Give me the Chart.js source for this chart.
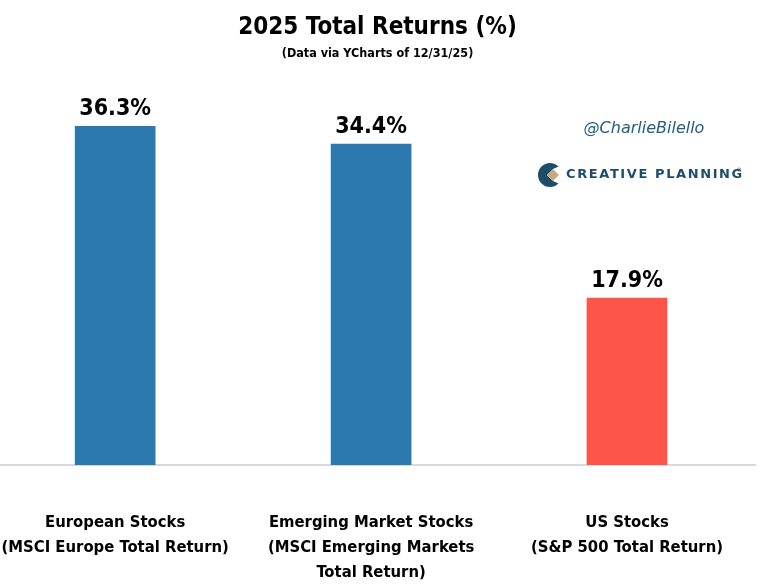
<!DOCTYPE html>
<html lang="en">
<head>
    <meta charset="UTF-8">
    <title>2025 Total Returns (%)</title>
    <script src="https://cdn.jsdelivr.net/npm/chart.js"></script>
    <style>
        html, body { margin: 0; padding: 0; background: #fff; }
        #box { width: 783px; height: 588px; }
    </style>
</head>
<body>
    <div id="box"><canvas id="grafico" width="783" height="588"></canvas></div>

    <script>
        // dados do gráfico
        const categorias = [
            ['European Stocks', '(MSCI Europe Total Return)'],
            ['Emerging Market Stocks', '(MSCI Emerging Markets', 'Total Return)'],
            ['US Stocks', '(S&P 500 Total Return)']
        ];
        const retornos = [36.3, 34.4, 17.9];
        const cores = ['#2b79ae', '#2b79ae', '#fd5649'];

        const fonte = "'Liberation Sans Narrow', 'DejaVu Sans Condensed', sans-serif";

        // rótulos de valor acima das barras
        const rotulos = {
            id: 'rotulos',
            afterDatasetsDraw(chart) {
                const ctx = chart.ctx;
                const meta = chart.getDatasetMeta(0);
                ctx.save();
                ctx.font = 'bold 23px ' + fonte;
                ctx.fillStyle = '#000';
                ctx.textAlign = 'center';
                ctx.textBaseline = 'alphabetic';
                meta.data.forEach((bar, i) => {
                    ctx.fillText(retornos[i].toFixed(1) + '%', bar.x, bar.y - 11);
                });
                ctx.restore();
            }
        };

        // marca d'água e logo
        const marca = {
            id: 'marca',
            afterDraw(chart) {
                const ctx = chart.ctx;
                ctx.save();
                ctx.fillStyle = '#215d7e';
                ctx.font = 'italic 16px DejaVu Sans, sans-serif';
                ctx.textAlign = 'center';
                ctx.textBaseline = 'middle';
                ctx.fillText('@CharlieBilello', 644, 129);

                // ícone
                const cx = 550, cy = 175;
                ctx.fillStyle = '#1d4d6a';
                ctx.beginPath();
                ctx.arc(cx, cy, 12, Math.PI * 0.25, Math.PI * 1.75);
                ctx.lineTo(cx + 3, cy - 6);
                ctx.lineTo(cx - 3, cy);
                ctx.lineTo(cx + 3, cy + 6);
                ctx.closePath();
                ctx.fill();
                ctx.fillStyle = '#c9aa7c';
                ctx.beginPath();
                ctx.moveTo(cx + 3, cy - 6);
                ctx.lineTo(cx + 9, cy);
                ctx.lineTo(cx + 3, cy + 6);
                ctx.lineTo(cx - 3, cy);
                ctx.closePath();
                ctx.fill();

                ctx.fillStyle = '#1d4d6a';
                ctx.font = 'bold 13px DejaVu Sans, sans-serif';
                ctx.textAlign = 'left';
                if ('letterSpacing' in ctx) ctx.letterSpacing = '1.6px';
                ctx.fillText('CREATIVE PLANNING', 566, 175);
                ctx.font = '6px DejaVu Sans, sans-serif';
                ctx.fillText('®', 736, 170);
                ctx.restore();
            }
        };

        new Chart(document.getElementById('grafico'), {
            type: 'bar',
            data: {
                datasets: [{
                    data: retornos.map((v, i) => ({ x: i, y: v })),
                    backgroundColor: cores,
                    barThickness: 80
                }]
            },
            options: {
                responsive: false,
                animation: false,
                layout: { padding: { left: 0, right: 28, top: 0, bottom: 0 } },
                plugins: {
                    legend: { display: false },
                    tooltip: { enabled: false },
                    title: {
                        display: true,
                        text: '2025 Total Returns (%)',
                        color: '#000',
                        font: { family: fonte, size: 24, weight: 'bold', lineHeight: 1.2 },
                        padding: { top: 13, bottom: 0 }
                    },
                    subtitle: {
                        display: true,
                        text: '(Data via YCharts of 12/31/25)',
                        color: '#000',
                        font: { family: fonte, size: 12.5, weight: 'bold', lineHeight: 1.2 },
                        padding: { top: 4, bottom: 31 }
                    }
                },
                scales: {
                    x: {
                        type: 'linear',
                        offset: false,
                        min: -0.45,
                        max: 2.5,
                        afterBuildTicks(axis) {
                            axis.ticks = categorias.map((c, i) => ({ value: i }));
                        },
                        afterFit(axis) {
                            axis.height = 123;
                            axis.paddingLeft = 0;
                            axis.paddingRight = 0;
                        },
                        grid: { display: false, drawTicks: false },
                        border: { display: true, color: '#d9d9d9', width: 2 },
                        ticks: {
                            autoSkip: false,
                            maxRotation: 0,
                            padding: 45,
                            color: '#000',
                            font: { family: fonte, size: 16.5, weight: 'bold', lineHeight: '25px' },
                            callback: (v) => categorias[v]
                        }
                    },
                    y: {
                        display: false,
                        min: 0,
                        max: 40
                    }
                }
            },
            plugins: [rotulos, marca]
        });
    </script>
</body>
</html>
